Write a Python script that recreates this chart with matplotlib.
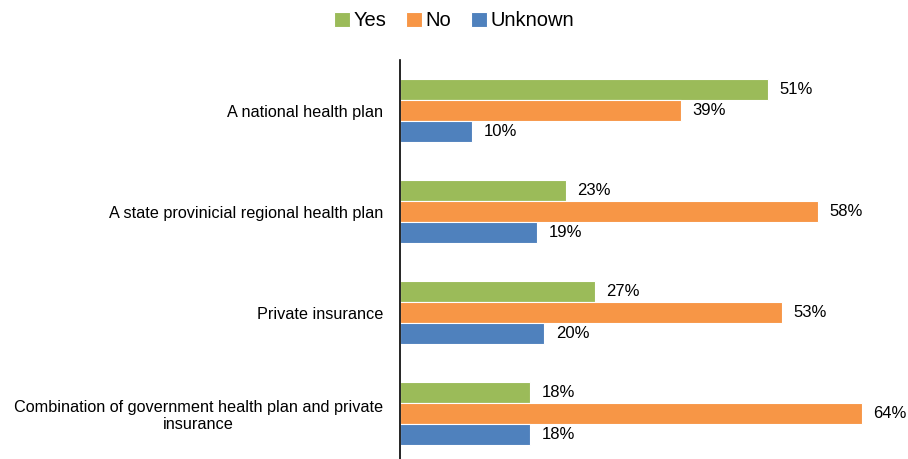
import matplotlib.pyplot as plt
import numpy as np

plt.rcParams['font.family'] = ['Liberation Sans', 'DejaVu Sans']

categories = ["A national health plan",
              "A state provinicial regional health plan",
              "Private insurance",
              "Combination of government health plan and private\ninsurance"]
series = ["Yes", "No", "Unknown"]
yes_vals = [51, 23, 27, 18]
no_vals = [39, 58, 53, 64]
unknown_vals = [10, 19, 20, 18]
colors = ["#9BBB59", "#F79646", "#4F81BD"]

fig = plt.figure(figsize=(9.08, 4.59), dpi=100)
ax = fig.add_axes([0.4405, 0.0, 0.556, 0.869])

y = np.arange(len(categories))
h = 0.208
for i, (name, vals) in enumerate(zip(series, [yes_vals, no_vals, unknown_vals])):
    pos = y + (i - 1) * h
    ax.barh(pos, vals, height=h, color=colors[i], edgecolor="white",
            linewidth=0.8, label=name)
    for p, v in zip(pos, vals):
        ax.text(v + 1.6, p, f"{v}%", va="center", ha="left", fontsize=12)

ax.set_xlim(0, 70)
ax.set_ylim(3.45, -0.5)
ax.set_yticks(y)
ax.set_yticklabels(categories, fontsize=11.7, multialignment="center")
ax.tick_params(axis="y", length=0, pad=12)
ax.set_xticks([])
for s in ["top", "right", "bottom"]:
    ax.spines[s].set_visible(False)
ax.spines["left"].set_linewidth(1.2)

fig.legend(loc="upper center", bbox_to_anchor=(0.5, 1.015), ncol=3, frameon=False,
           fontsize=14.5, handlelength=0.8, handleheight=0.8, handletextpad=0.15,
           columnspacing=1.0)

plt.savefig("out.png", dpi=100)
